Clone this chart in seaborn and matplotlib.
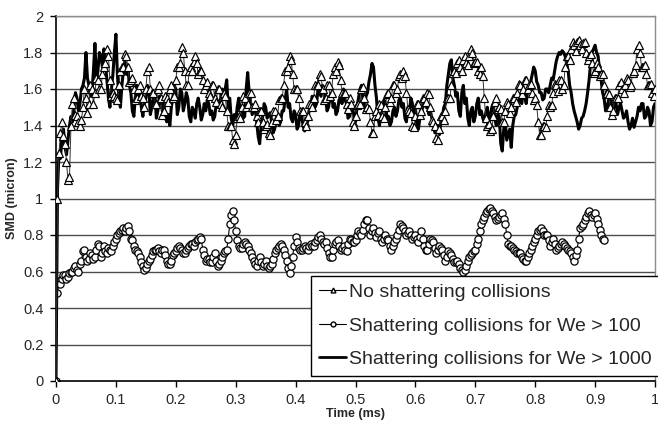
import numpy as np
import pandas as pd
import matplotlib
matplotlib.use("Agg")
import matplotlib.pyplot as plt
from matplotlib.lines import Line2D
import seaborn as sns

# ---------------- data ----------------
labels = ["No shattering collisions",
          "Shattering collisions for We > 100",
          "Shattering collisions for We > 1000"]

# values on the 0.005 ms grid
no_shatter = [
    0.0, 1.25, 1.42, 1.30, 1.10, 1.40, 1.55, 1.45, 1.40, 1.50,
    1.55, 1.52, 1.60, 1.58, 1.65, 1.60, 1.72, 1.82, 1.65, 1.58,
    1.55, 1.62, 1.72, 1.79, 1.72, 1.65, 1.60, 1.55, 1.62, 1.55,
    1.60, 1.72, 1.58, 1.52, 1.60, 1.55, 1.48, 1.55, 1.60, 1.55,
    1.65, 1.72, 1.83, 1.70, 1.62, 1.72, 1.75, 1.74, 1.70, 1.65,
    1.62, 1.58, 1.62, 1.55, 1.60, 1.52, 1.58, 1.48, 1.40, 1.32,
    1.35, 1.45, 1.50, 1.55, 1.52, 1.58, 1.50, 1.45, 1.48, 1.42,
    1.40, 1.36, 1.42, 1.48, 1.45, 1.55, 1.62, 1.70, 1.78, 1.68,
    1.60, 1.55, 1.48, 1.42, 1.45, 1.52, 1.55, 1.62, 1.68, 1.60,
    1.55, 1.62, 1.58, 1.72, 1.75, 1.65, 1.58, 1.52, 1.55, 1.42,
    1.45, 1.52, 1.60, 1.55, 1.50, 1.42, 1.36, 1.48, 1.52, 1.45,
    1.50, 1.58, 1.55, 1.62, 1.60, 1.68, 1.70, 1.58, 1.48, 1.40,
    1.45, 1.52, 1.48, 1.55, 1.58, 1.50, 1.42, 1.33, 1.38, 1.45,
    1.48, 1.55, 1.62, 1.70, 1.74, 1.72, 1.76, 1.74, 1.78, 1.80,
    1.75, 1.70, 1.72, 1.55, 1.40, 1.37, 1.45, 1.55, 1.50, 1.42,
    1.48, 1.52, 1.50, 1.55, 1.58, 1.62, 1.60, 1.65, 1.62, 1.58,
    1.55, 1.42, 1.35, 1.40, 1.45, 1.50, 1.58, 1.62, 1.65, 1.60,
    1.72, 1.78, 1.82, 1.84, 1.86, 1.84, 1.85, 1.80, 1.78, 1.74,
    1.70, 1.72, 1.68, 1.62, 1.58, 1.50, 1.48, 1.55, 1.62, 1.60,
    1.62, 1.65, 1.62, 1.70, 1.82, 1.80, 1.72, 1.68, 1.62, 1.58,
    1.60,
]
# values read at the in-between samples (0.0025 + k*0.005 ms)
no_shatter_mid = [
    1.00, 1.36, 1.34, 1.20, 1.12, 1.52, 1.46, 1.42, 1.43, 1.60,
    1.47, 1.62, 1.52, 1.66, 1.60, 1.68, 1.74, 1.78, 1.56, 1.56,
    1.54, 1.70, 1.72, 1.78, 1.64, 1.66, 1.54, 1.60, 1.56, 1.50,
    1.70, 1.60, 1.58, 1.52, 1.62, 1.46, 1.56, 1.53, 1.62, 1.56,
    1.72, 1.74, 1.80, 1.62, 1.70, 1.70, 1.78, 1.68, 1.70, 1.60,
    1.64, 1.56, 1.62, 1.53, 1.60, 1.50, 1.56, 1.40, 1.40, 1.30,
    1.44, 1.44, 1.56, 1.50, 1.58, 1.50, 1.52, 1.42, 1.48, 1.38,
    1.41, 1.35, 1.48, 1.43, 1.54, 1.55, 1.70, 1.72, 1.76, 1.60,
    1.60, 1.48, 1.48, 1.40, 1.52, 1.50, 1.62, 1.62, 1.67, 1.54,
    1.62, 1.56, 1.68, 1.70, 1.73, 1.58, 1.58, 1.49, 1.52, 1.40,
    1.51, 1.52, 1.61, 1.49, 1.49, 1.36, 1.45, 1.46, 1.51, 1.44,
    1.57, 1.53, 1.62, 1.58, 1.67, 1.66, 1.67, 1.49, 1.47, 1.39,
    1.52, 1.46, 1.55, 1.53, 1.57, 1.43, 1.40, 1.32, 1.45, 1.43,
    1.55, 1.55, 1.69, 1.69, 1.76, 1.70, 1.78, 1.73, 1.82, 1.74,
    1.75, 1.68, 1.67, 1.44, 1.41, 1.38, 1.53, 1.49, 1.49, 1.42,
    1.53, 1.47, 1.55, 1.53, 1.63, 1.57, 1.65, 1.60, 1.63, 1.54,
    1.51, 1.35, 1.40, 1.39, 1.51, 1.51, 1.63, 1.59, 1.65, 1.62,
    1.78, 1.76, 1.86, 1.81, 1.87, 1.82, 1.86, 1.76, 1.79, 1.69,
    1.74, 1.67, 1.68, 1.57, 1.57, 1.46, 1.55, 1.55, 1.64, 1.58,
    1.66, 1.61, 1.69, 1.73, 1.84, 1.72, 1.73, 1.62, 1.63, 1.56,
]

we_1000 = [
    0.0, 1.25, 1.35, 1.28, 1.32, 1.45, 1.50, 1.55, 1.52, 1.62,
    1.80, 1.62, 1.58, 1.85, 1.70, 1.78, 1.82, 1.65, 1.50, 1.68,
    1.90, 1.55, 1.62, 1.75, 1.72, 1.58, 1.45, 1.62, 1.58, 1.45,
    1.55, 1.60, 1.50, 1.58, 1.48, 1.55, 1.52, 1.42, 1.40, 1.55,
    1.60, 1.50, 1.58, 1.52, 1.55, 1.42, 1.48, 1.52, 1.50, 1.46,
    1.48, 1.52, 1.48, 1.45, 1.50, 1.55, 1.58, 1.65, 1.55, 1.40,
    1.42, 1.55, 1.50, 1.45, 1.69, 1.52, 1.48, 1.42, 1.30, 1.45,
    1.50, 1.46, 1.42, 1.38, 1.45, 1.42, 1.48, 1.60, 1.52, 1.42,
    1.46, 1.40, 1.45, 1.37, 1.42, 1.50, 1.55, 1.52, 1.58, 1.62,
    1.55, 1.50, 1.58, 1.52, 1.48, 1.55, 1.60, 1.52, 1.45, 1.50,
    1.42, 1.55, 1.62, 1.50, 1.58, 1.68, 1.72, 1.55, 1.40, 1.48,
    1.52, 1.45, 1.42, 1.50, 1.48, 1.55, 1.52, 1.42, 1.48, 1.52,
    1.50, 1.38, 1.45, 1.55, 1.52, 1.48, 1.42, 1.38, 1.35, 1.45,
    1.52, 1.68, 1.76, 1.62, 1.58, 1.45, 1.62, 1.55, 1.40, 1.50,
    1.45, 1.55, 1.48, 1.42, 1.50, 1.45, 1.52, 1.40, 1.45, 1.26,
    1.42, 1.35, 1.28, 1.45, 1.50, 1.55, 1.58, 1.52, 1.62, 1.68,
    1.70, 1.62, 1.58, 1.55, 1.60, 1.62, 1.65, 1.75, 1.80, 1.81,
    1.78, 1.70, 1.58, 1.48, 1.42, 1.40, 1.45, 1.52, 1.65, 1.80,
    1.84, 1.78, 1.65, 1.55, 1.50, 1.55, 1.48, 1.52, 1.50, 1.48,
    1.45, 1.42, 1.40, 1.39, 1.45, 1.48, 1.52, 1.45, 1.48, 1.42,
    1.52,
]
we_1000_mid = [
    1.05, 1.22, 1.38, 1.24, 1.40, 1.42, 1.58, 1.48, 1.60, 1.66,
    1.66, 1.56, 1.70, 1.64, 1.80, 1.72, 1.74, 1.55, 1.60, 1.80,
    1.68, 1.50, 1.70, 1.68, 1.62, 1.48, 1.56, 1.55, 1.50, 1.52,
    1.62, 1.46, 1.56, 1.44, 1.56, 1.48, 1.44, 1.46, 1.50, 1.62,
    1.46, 1.60, 1.48, 1.58, 1.45, 1.50, 1.44, 1.55, 1.43, 1.52,
    1.54, 1.46, 1.43, 1.52, 1.50, 1.60, 1.60, 1.50, 1.44, 1.46,
    1.50, 1.48, 1.44, 1.60, 1.58, 1.46, 1.50, 1.34, 1.40, 1.52,
    1.44, 1.47, 1.36, 1.44, 1.40, 1.48, 1.54, 1.50, 1.44, 1.48,
    1.38, 1.47, 1.40, 1.44, 1.48, 1.56, 1.50, 1.60, 1.56, 1.60,
    1.48, 1.56, 1.50, 1.46, 1.54, 1.52, 1.54, 1.44, 1.52, 1.45,
    1.50, 1.60, 1.54, 1.56, 1.64, 1.74, 1.62, 1.44, 1.46, 1.54,
    1.44, 1.40, 1.48, 1.45, 1.54, 1.50, 1.44, 1.50, 1.55, 1.46,
    1.40, 1.44, 1.52, 1.50, 1.46, 1.44, 1.36, 1.40, 1.42, 1.50,
    1.62, 1.74, 1.66, 1.56, 1.48, 1.58, 1.52, 1.44, 1.48, 1.42,
    1.52, 1.46, 1.44, 1.47, 1.43, 1.50, 1.44, 1.46, 1.30, 1.38,
    1.32, 1.38, 1.40, 1.46, 1.54, 1.52, 1.56, 1.60, 1.64, 1.72,
    1.64, 1.58, 1.54, 1.60, 1.58, 1.66, 1.70, 1.78, 1.79, 1.80,
    1.74, 1.62, 1.52, 1.45, 1.38, 1.44, 1.48, 1.58, 1.74, 1.82,
    1.80, 1.70, 1.58, 1.48, 1.54, 1.50, 1.53, 1.46, 1.52, 1.44,
    1.48, 1.38, 1.44, 1.42, 1.50, 1.52, 1.44, 1.50, 1.40, 1.50,
]

we_100 = [
    0.0, 0.55, 0.56, 0.58, 0.57, 0.60, 0.62, 0.61, 0.64, 0.71,
    0.68, 0.67, 0.69, 0.68, 0.75, 0.68, 0.74, 0.70, 0.72, 0.74,
    0.78, 0.81, 0.83, 0.82, 0.85, 0.78, 0.74, 0.71, 0.68, 0.63,
    0.62, 0.66, 0.69, 0.72, 0.73, 0.70, 0.72, 0.66, 0.64, 0.69,
    0.71, 0.74, 0.72, 0.70, 0.73, 0.75, 0.74, 0.77, 0.79, 0.72,
    0.66, 0.67, 0.65, 0.70, 0.63, 0.66, 0.70, 0.72, 0.86, 0.93,
    0.82, 0.74, 0.73, 0.76, 0.74, 0.70, 0.66, 0.63, 0.68, 0.63,
    0.66, 0.62, 0.64, 0.70, 0.73, 0.75, 0.72, 0.66, 0.59, 0.68,
    0.79, 0.73, 0.72, 0.74, 0.72, 0.75, 0.74, 0.77, 0.80, 0.76,
    0.76, 0.70, 0.68, 0.75, 0.77, 0.72, 0.74, 0.71, 0.78, 0.76,
    0.77, 0.82, 0.80, 0.86, 0.88, 0.80, 0.84, 0.79, 0.82, 0.76,
    0.80, 0.77, 0.72, 0.76, 0.80, 0.86, 0.84, 0.80, 0.82, 0.78,
    0.80, 0.76, 0.82, 0.74, 0.72, 0.78, 0.76, 0.70, 0.74, 0.72,
    0.66, 0.71, 0.69, 0.65, 0.66, 0.62, 0.60, 0.63, 0.68, 0.70,
    0.72, 0.78, 0.86, 0.90, 0.93, 0.95, 0.92, 0.88, 0.90, 0.92,
    0.86, 0.75, 0.74, 0.72, 0.70, 0.70, 0.67, 0.66, 0.70, 0.74,
    0.78, 0.82, 0.84, 0.80, 0.80, 0.74, 0.78, 0.72, 0.74, 0.76,
    0.74, 0.72, 0.70, 0.66, 0.72, 0.84, 0.86, 0.90, 0.93, 0.90,
    0.92, 0.86, 0.80, 0.77,
]
we_100_mid = [
    0.48, 0.53, 0.58, 0.56, 0.59, 0.60, 0.63, 0.60, 0.66, 0.72,
    0.66, 0.70, 0.67, 0.72, 0.74, 0.70, 0.71, 0.73, 0.71, 0.76,
    0.80, 0.82, 0.84, 0.84, 0.82, 0.77, 0.72, 0.70, 0.65, 0.61,
    0.64, 0.67, 0.71, 0.72, 0.71, 0.72, 0.69, 0.64, 0.66, 0.70,
    0.73, 0.73, 0.70, 0.72, 0.74, 0.75, 0.76, 0.78, 0.78, 0.69,
    0.67, 0.65, 0.68, 0.66, 0.64, 0.68, 0.71, 0.78, 0.91, 0.88,
    0.77, 0.73, 0.75, 0.75, 0.72, 0.68, 0.64, 0.66, 0.65, 0.64,
    0.63, 0.63, 0.67, 0.72, 0.74, 0.74, 0.69, 0.62, 0.63, 0.74,
    0.76, 0.72, 0.73, 0.73, 0.74, 0.74, 0.76, 0.79, 0.78, 0.75,
    0.73, 0.68, 0.72, 0.76, 0.74, 0.73, 0.72, 0.75, 0.77, 0.76,
    0.80, 0.81, 0.83, 0.88, 0.84, 0.82, 0.81, 0.81, 0.78, 0.78,
    0.78, 0.74, 0.74, 0.78, 0.83, 0.85, 0.82, 0.81, 0.80, 0.79,
    0.78, 0.79, 0.78, 0.72, 0.75, 0.77, 0.73, 0.72, 0.73, 0.69,
    0.68, 0.70, 0.67, 0.65, 0.64, 0.61, 0.61, 0.66, 0.69, 0.71,
    0.75, 0.82, 0.88, 0.92, 0.94, 0.93, 0.90, 0.89, 0.91, 0.89,
    0.80, 0.74, 0.73, 0.71, 0.70, 0.68, 0.66, 0.68, 0.72, 0.76,
    0.80, 0.83, 0.82, 0.80, 0.77, 0.76, 0.75, 0.73, 0.75, 0.75,
    0.73, 0.71, 0.68, 0.69, 0.78, 0.85, 0.88, 0.92, 0.91, 0.91,
    0.89, 0.83, 0.78,
]

x_ticks = [0, 0.1, 0.2, 0.3, 0.4, 0.5, 0.6, 0.7, 0.8, 0.9, 1]
x_ticklabels = ["0", "0.1", "0.2", "0.3", "0.4", "0.5", "0.6", "0.7", "0.8", "0.9", "1"]
y_ticks = [0, 0.2, 0.4, 0.6, 0.8, 1, 1.2, 1.4, 1.6, 1.8, 2]
y_ticklabels = ["0", "0.2", "0.4", "0.6", "0.8", "1", "1.2", "1.4", "1.6", "1.8", "2"]


def merge(main, mid):
    out = np.empty(len(main) + len(mid))
    out[0::2] = main
    out[1::2] = mid
    return out


v_a = merge(no_shatter, no_shatter_mid)
v_b = merge(we_100, we_100_mid)
v_c = merge(we_1000, we_1000_mid)
t_full = np.round(np.linspace(0.0, 1.0, len(v_a)), 4)

df_a = pd.DataFrame({"t": t_full, "v": v_a})
df_b = pd.DataFrame({"t": t_full[:len(v_b)], "v": v_b})
df_c = pd.DataFrame({"t": t_full, "v": v_c})

# ---------------- plot ----------------
sns.set_style("white")
plt.rcParams["font.family"] = ["Liberation Sans", "DejaVu Sans"]

fig = plt.figure(figsize=(6.58, 4.26), dpi=100)
ax = fig.add_axes([56 / 658, 45 / 426, 599 / 658, 365 / 426])

for yv in y_ticks[1:]:
    ax.axhline(yv, color="#4d4d4d", lw=1.0, zorder=0)

sns.lineplot(data=df_b, x="t", y="v", ax=ax, color="black", lw=0.8,
             marker="o", markersize=5.2, markerfacecolor="white",
             markeredgecolor="black", markeredgewidth=0.9, zorder=2,
             estimator=None, sort=False)
sns.lineplot(data=df_c, x="t", y="v", ax=ax, color="black", lw=2.2,
             zorder=3, estimator=None, sort=False)
sns.lineplot(data=df_a, x="t", y="v", ax=ax, color="#333333", lw=0.7,
             marker="^", markersize=5.5, markerfacecolor="white",
             markeredgecolor="black", markeredgewidth=0.85, zorder=4,
             estimator=None, sort=False)

ax.set_xlim(0, 1)
ax.set_ylim(0, 2)
ax.set_xticks(x_ticks)
ax.set_xticklabels(x_ticklabels)
ax.set_yticks(y_ticks)
ax.set_yticklabels(y_ticklabels)
ax.tick_params(axis="both", which="major", labelsize=10.5, length=4,
               width=1, color="black", direction="out", pad=5,
               bottom=True, left=True)
ax.set_xlabel("Time (ms)", fontsize=9, fontweight="bold", labelpad=0)
ax.set_ylabel("SMD (micron)", fontsize=9, fontweight="bold", labelpad=4)

for s in ["left", "bottom"]:
    ax.spines[s].set_color("black")
    ax.spines[s].set_linewidth(1.2)
for s in ["top", "right"]:
    ax.spines[s].set_color("#8c8c8c")
    ax.spines[s].set_linewidth(1.0)

handles = [
    Line2D([], [], color="black", lw=0.8, marker="^", markersize=3.5,
           markerfacecolor="white", markeredgecolor="black"),
    Line2D([], [], color="black", lw=0.8, marker="o", markersize=3.5,
           markerfacecolor="white", markeredgecolor="black"),
    Line2D([], [], color="black", lw=2.0),
]
leg = ax.legend(handles, labels, loc="lower right",
                bbox_to_anchor=(1.008, 0.014), fontsize=14.0,
                frameon=True, fancybox=False, framealpha=1,
                edgecolor="black", handlelength=1.4, handletextpad=0.15,
                borderpad=0.4, labelspacing=0.82, borderaxespad=0)
leg.get_frame().set_linewidth(1.0)
leg.set_zorder(10)

fig.savefig("out.png", dpi=100)
